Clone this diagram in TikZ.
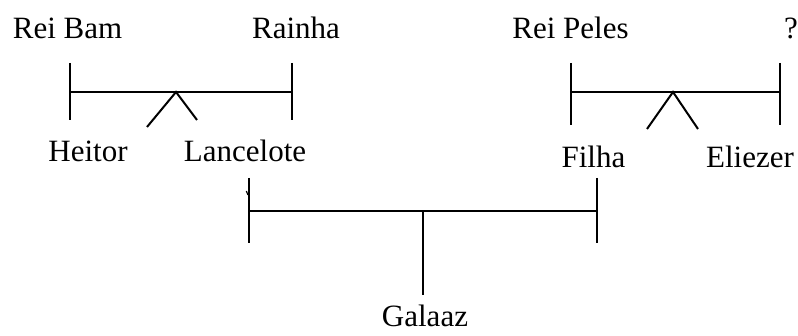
\documentclass[tikz,border=0pt]{standalone}
\usepackage{fontspec}
\setmainfont{Liberation Serif}
\begin{document}
\begin{tikzpicture}[x=1pt,y=-1pt,
  lbl/.style={anchor=base,inner sep=0pt,font=\fontsize{31}{35}\selectfont},
  ln/.style={line width=2pt,black}]
\useasboundingbox (0,0) rectangle (798,336);
% labels
\node[lbl] (reibam) at (67.5,39) {Rei Bam};
\node[lbl] (rainha) at (296,39) {Rainha};
\node[lbl] (reipeles) at (570.5,39) {Rei Peles};
\node[lbl] (q) at (791,39) {?};
\node[lbl] (heitor) at (88,162) {Heitor};
\node[lbl] (lancelote) at (245,162) {Lancelote};
\node[lbl] (filha) at (593.5,168) {Filha};
\node[lbl] (eliezer) at (750,168) {Eliezer};
\node[lbl] (galaaz) at (425,327) {Galaaz};
% left family
\coordinate (a1) at (70,63); \coordinate (a2) at (70,120);
\coordinate (b1) at (292,63); \coordinate (b2) at (292,120);
\coordinate (am) at (70,92); \coordinate (bm) at (292,92);
\coordinate (ap) at (176,92);
\coordinate (al) at (147,127); \coordinate (ar) at (197,120);
\draw[ln] (a1) -- (a2);
\draw[ln] (b1) -- (b2);
\draw[ln] (am) -- (bm);
\draw[ln] (al) -- (ap) -- (ar);
% right family
\coordinate (c1) at (571,63); \coordinate (c2) at (571,125);
\coordinate (d1) at (780,63); \coordinate (d2) at (780,125);
\coordinate (cm) at (571,92); \coordinate (dm) at (780,92);
\coordinate (cp) at (673,92);
\coordinate (cl) at (647,129); \coordinate (cr) at (698,129);
\draw[ln] (c1) -- (c2);
\draw[ln] (d1) -- (d2);
\draw[ln] (cm) -- (dm);
\draw[ln] (cl) -- (cp) -- (cr);
% bottom
\coordinate (e1) at (249,178); \coordinate (e2) at (249,243);
\coordinate (f1) at (597,178); \coordinate (f2) at (597,243);
\coordinate (em) at (249,211); \coordinate (fm) at (597,211);
\coordinate (gm) at (423,211); \coordinate (gb) at (423,295);
\coordinate (t1) at (246.3,191); \coordinate (t2) at (248,195);
\draw[ln] (e1) -- (e2);
\draw[ln] (f1) -- (f2);
\draw[ln] (em) -- (fm);
\draw[ln] (gm) -- (gb);
\draw[line width=1.2pt] (t1) -- (t2);
\end{tikzpicture}
\end{document}
